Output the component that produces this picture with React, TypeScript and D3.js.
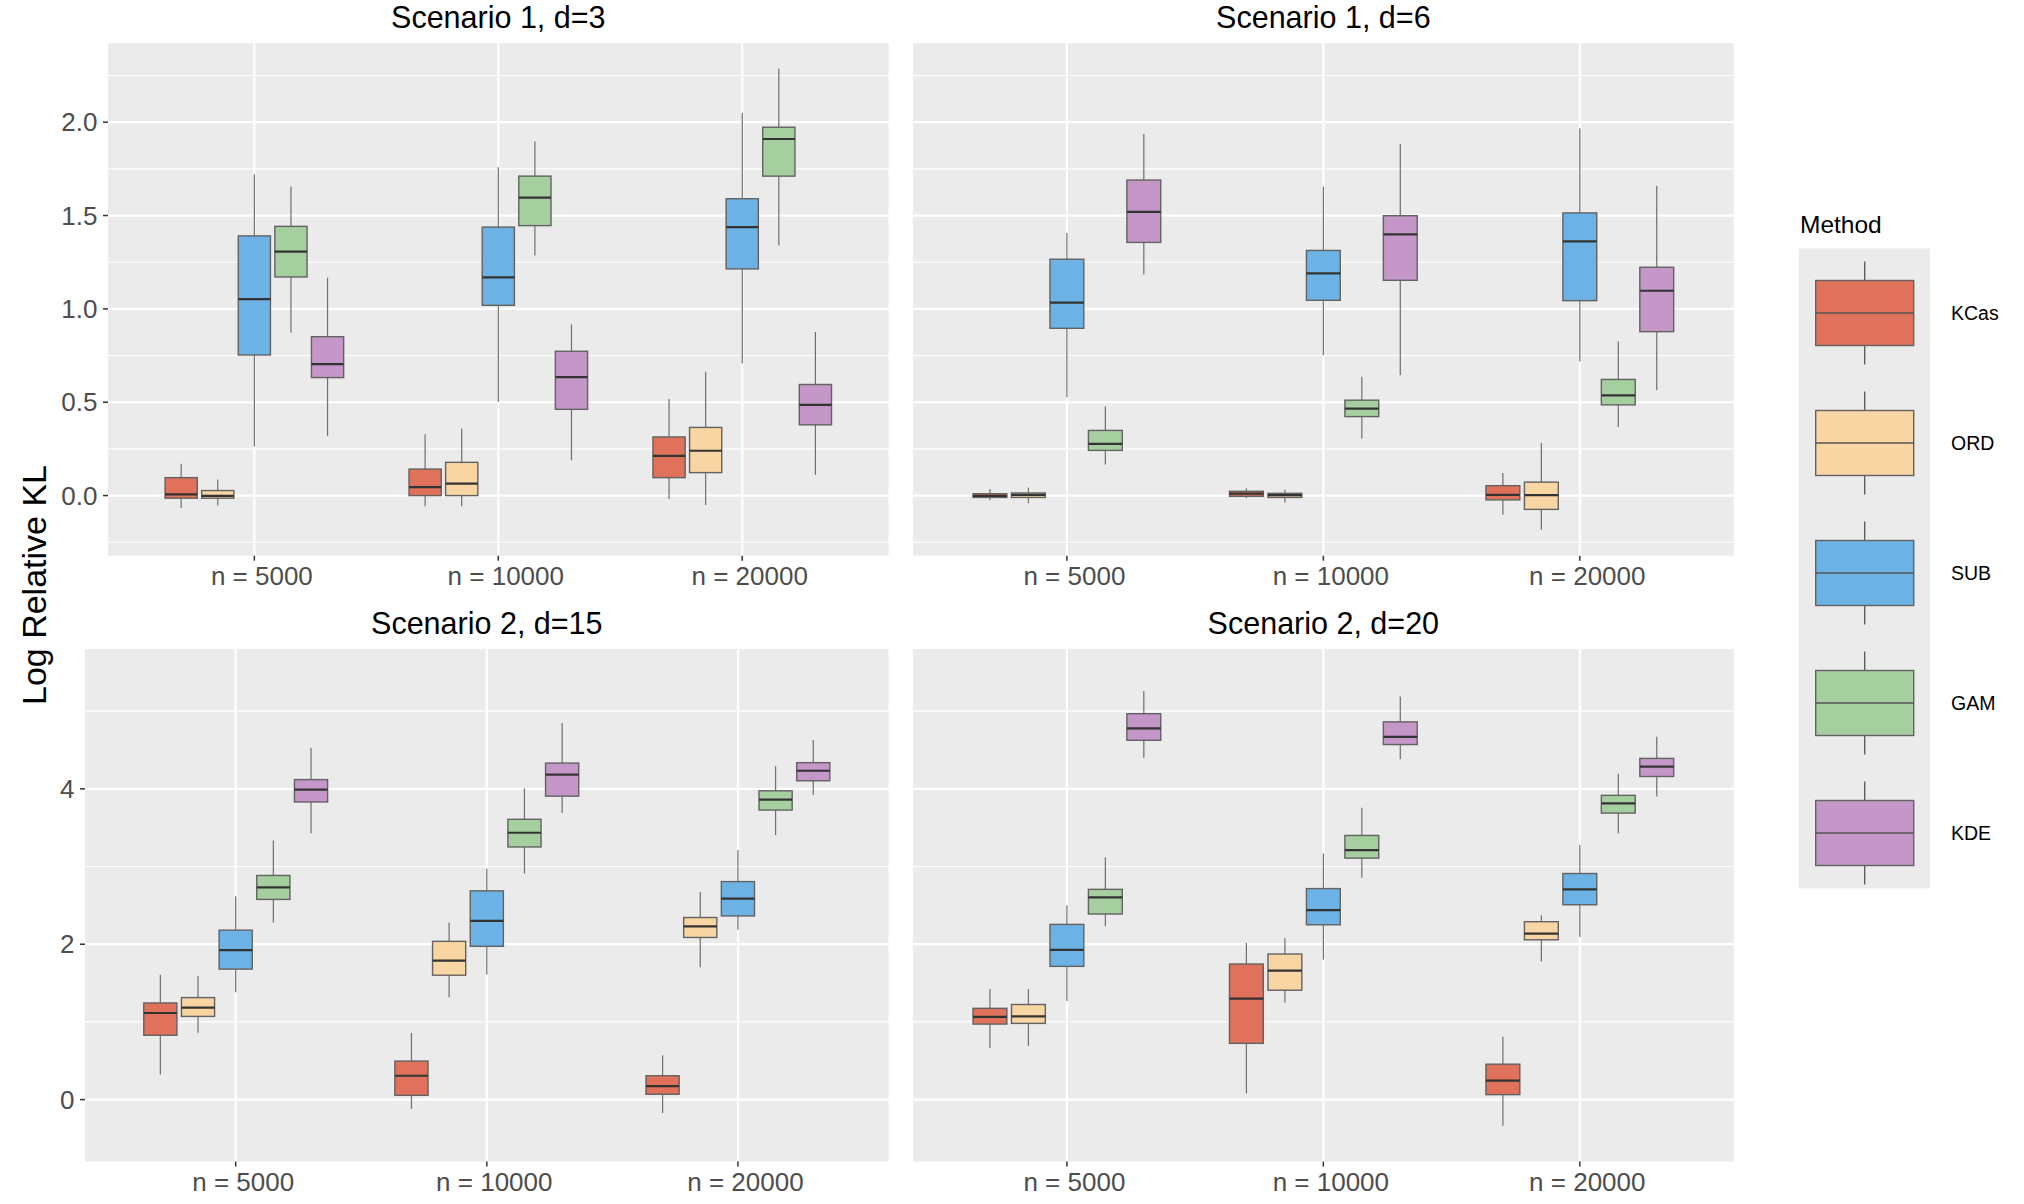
import * as d3 from "d3";

const methods = ["KCas", "ORD", "SUB", "GAM", "KDE"];
const methodColors = ["#E0715A", "#F8D5A2", "#6DB2E4", "#A6CFA0", "#C597C9"];
const sampleSizes = ["n = 5000", "n = 10000", "n = 20000"];

// each row: [lower whisker, q1, median, q3, upper whisker], grouped by n then method
const scenario1d3 = [
  [
    [-0.066, -0.014, 0.006, 0.096, 0.17],
    [-0.053, -0.014, -0.002, 0.027, 0.086],
    [0.263, 0.753, 1.052, 1.391, 1.721],
    [0.874, 1.171, 1.307, 1.442, 1.655],
    [0.32, 0.632, 0.704, 0.851, 1.167],
  ],
  [
    [-0.057, 0.0, 0.045, 0.142, 0.328],
    [-0.057, 0.0, 0.064, 0.178, 0.359],
    [0.503, 1.019, 1.169, 1.438, 1.758],
    [1.286, 1.446, 1.596, 1.711, 1.897],
    [0.189, 0.462, 0.634, 0.773, 0.917],
  ],
  [
    [-0.018, 0.096, 0.213, 0.314, 0.517],
    [-0.051, 0.123, 0.24, 0.365, 0.663],
    [0.708, 1.214, 1.438, 1.59, 2.051],
    [1.339, 1.711, 1.91, 1.973, 2.287],
    [0.111, 0.379, 0.486, 0.595, 0.876],
  ],
];

const scenario1d6 = [
  [
    [-0.025, -0.01, -0.002, 0.01, 0.035],
    [-0.041, -0.01, 0.004, 0.014, 0.043],
    [0.527, 0.896, 1.034, 1.266, 1.407],
    [0.166, 0.242, 0.277, 0.349, 0.478],
    [1.184, 1.356, 1.52, 1.69, 1.936],
  ],
  [
    [-0.014, -0.004, 0.01, 0.023, 0.039],
    [-0.037, -0.01, 0.002, 0.012, 0.031],
    [0.751, 1.046, 1.19, 1.313, 1.655],
    [0.306, 0.423, 0.466, 0.511, 0.636],
    [0.644, 1.153, 1.399, 1.499, 1.883],
  ],
  [
    [-0.103, -0.023, 0.004, 0.053, 0.121],
    [-0.183, -0.074, 0.002, 0.072, 0.281],
    [0.718, 1.044, 1.362, 1.514, 1.967],
    [0.367, 0.486, 0.537, 0.622, 0.825],
    [0.564, 0.878, 1.097, 1.223, 1.659],
  ],
];

const scenario2d15 = [
  [
    [0.322, 0.828, 1.115, 1.244, 1.606],
    [0.862, 1.071, 1.185, 1.313, 1.591],
    [1.383, 1.68, 1.923, 2.181, 2.617],
    [2.28, 2.577, 2.731, 2.885, 3.336],
    [3.43, 3.831, 3.99, 4.119, 4.53],
  ],
  [
    [-0.119, 0.055, 0.307, 0.496, 0.857],
    [1.318, 1.601, 1.789, 2.037, 2.28],
    [1.611, 1.973, 2.3, 2.687, 2.974],
    [2.91, 3.252, 3.435, 3.608, 4.005],
    [3.688, 3.906, 4.183, 4.332, 4.848],
  ],
  [
    [-0.173, 0.069, 0.173, 0.307, 0.57],
    [1.705, 2.087, 2.23, 2.344, 2.672],
    [2.186, 2.364, 2.587, 2.806, 3.212],
    [3.405, 3.727, 3.861, 3.975, 4.292],
    [3.921, 4.104, 4.233, 4.337, 4.629],
  ],
];

const scenario2d20 = [
  [
    [0.664, 0.972, 1.066, 1.175, 1.423],
    [0.689, 0.981, 1.071, 1.224, 1.423],
    [1.269, 1.715, 1.928, 2.255, 2.503],
    [2.23, 2.389, 2.602, 2.706, 3.118],
    [4.401, 4.625, 4.778, 4.967, 5.259],
  ],
  [
    [0.079, 0.724, 1.299, 1.745, 2.017],
    [1.249, 1.408, 1.66, 1.874, 2.077],
    [1.799, 2.25, 2.439, 2.716, 3.167],
    [2.855, 3.108, 3.212, 3.4, 3.757],
    [4.382, 4.57, 4.669, 4.862, 5.19],
  ],
  [
    [-0.337, 0.064, 0.243, 0.456, 0.808],
    [1.779, 2.057, 2.136, 2.29, 2.374],
    [2.092, 2.508, 2.706, 2.91, 3.276],
    [3.425, 3.688, 3.812, 3.916, 4.193],
    [3.901, 4.159, 4.287, 4.392, 4.669],
  ],
];

const topDomain = [-0.322, 2.423];
const topTicks = [0, 0.5, 1, 1.5, 2];
const topTickLabels = ["0.0", "0.5", "1.0", "1.5", "2.0"];
const topMinor = [-0.25, 0.25, 0.75, 1.25, 1.75, 2.25];

const bottomDomain = [-0.798, 5.8];
const bottomTicks = [0, 2, 4];
const bottomTickLabels = ["0", "2", "4"];
const bottomMinor = [1, 3, 5];

const FONT = "'Liberation Sans', Arial, Helvetica, sans-serif";

const panels = [
  { title: "Scenario 1, d=3", stats: scenario1d3, x0: 108, x1: 888.6, y0: 43.2, y1: 555.7, top: true, yAxis: true },
  { title: "Scenario 1, d=6", stats: scenario1d6, x0: 913, x1: 1733.7, y0: 43.2, y1: 555.7, top: true, yAxis: false },
  { title: "Scenario 2, d=15", stats: scenario2d15, x0: 85, x1: 888.6, y0: 649, y1: 1161.6, top: false, yAxis: true },
  { title: "Scenario 2, d=20", stats: scenario2d20, x0: 913, x1: 1733.7, y0: 649, y1: 1161.6, top: false, yAxis: false },
];

function Panel({ p }) {
  const domain = p.top ? topDomain : bottomDomain;
  const ticks = p.top ? topTicks : bottomTicks;
  const tickLabels = p.top ? topTickLabels : bottomTickLabels;
  const minor = p.top ? topMinor : bottomMinor;

  const y = d3.scaleLinear().domain(domain).range([p.y1, p.y0]);
  const x = d3
    .scaleBand()
    .domain(sampleSizes)
    .range([p.x0, p.x1])
    .paddingInner(0)
    .paddingOuter(0.1);
  const step = x.bandwidth();
  const dodge = d3
    .scaleBand()
    .domain(methods)
    .range([-0.375 * step, 0.375 * step]);
  const boxW = dodge.bandwidth() * 0.88;

  return (
    <g>
      <rect x={p.x0} y={p.y0} width={p.x1 - p.x0} height={p.y1 - p.y0} fill="#EBEBEB" />
      {minor.map((v) => (
        <line key={"mi" + v} x1={p.x0} x2={p.x1} y1={y(v)} y2={y(v)} stroke="#fff" strokeWidth={1.1} />
      ))}
      {ticks.map((v) => (
        <line key={"ma" + v} x1={p.x0} x2={p.x1} y1={y(v)} y2={y(v)} stroke="#fff" strokeWidth={2.2} />
      ))}
      {sampleSizes.map((s) => {
        const cx = x(s) + step / 2;
        return <line key={"vx" + s} x1={cx} x2={cx} y1={p.y0} y2={p.y1} stroke="#fff" strokeWidth={2.2} />;
      })}

      {sampleSizes.map((s, gi) =>
        methods.map((m, mi) => {
          const [lo, q1, med, q3, hi] = p.stats[gi][mi];
          const cx = x(s) + step / 2 + dodge(m) + dodge.bandwidth() / 2;
          return (
            <g key={s + m}>
              <line x1={cx} x2={cx} y1={y(hi)} y2={y(q3)} stroke="#6e6e6e" strokeWidth={1.2} />
              <line x1={cx} x2={cx} y1={y(q1)} y2={y(lo)} stroke="#6e6e6e" strokeWidth={1.2} />
              <rect
                x={cx - boxW / 2}
                y={y(q3)}
                width={boxW}
                height={Math.max(y(q1) - y(q3), 0.5)}
                fill={methodColors[mi]}
                stroke="#626262"
                strokeWidth={1.4}
              />
              <line x1={cx - boxW / 2} x2={cx + boxW / 2} y1={y(med)} y2={y(med)} stroke="#333" strokeWidth={2.2} />
            </g>
          );
        })
      )}

      {sampleSizes.map((s) => {
        const cx = x(s) + step / 2;
        return (
          <g key={"xt" + s}>
            <line x1={cx} x2={cx} y1={p.y1} y2={p.y1 + 5} stroke="#333" strokeWidth={1.5} />
            <text x={cx + 7.5} y={p.y1 + 29} textAnchor="middle" fontSize={26} fill="#4D4D4D" fontFamily={FONT}>
              {s}
            </text>
          </g>
        );
      })}

      {p.yAxis &&
        ticks.map((v, i) => (
          <g key={"yt" + v}>
            <line x1={p.x0 - 5} x2={p.x0} y1={y(v)} y2={y(v)} stroke="#333" strokeWidth={1.5} />
            <text
              x={p.x0 - 10.5}
              y={y(v)}
              dy="0.35em"
              textAnchor="end"
              fontSize={26}
              fill="#4D4D4D"
              fontFamily={FONT}
            >
              {tickLabels[i]}
            </text>
          </g>
        ))}

      <text x={(p.x0 + p.x1) / 2} y={p.y0 - 15} textAnchor="middle" fontSize={30.5} fill="#000" fontFamily={FONT}>
        {p.title}
      </text>
    </g>
  );
}

function Legend() {
  const keyY = d3.scaleLinear().domain([0, 1]).range([313, 443]);
  return (
    <g>
      <text x={1800} y={233} fontSize={24.5} fill="#000" fontFamily={FONT}>
        Method
      </text>
      <rect x={1799} y={248.3} width={131} height={640} fill="#EBEBEB" />
      {methods.map((m, i) => {
        const cy = keyY(i);
        return (
          <g key={"lg" + m}>
            <line x1={1864.7} x2={1864.7} y1={cy - 51.5} y2={cy + 51.5} stroke="#555" strokeWidth={1.3} />
            <rect x={1815.7} y={cy - 32.5} width={98} height={65} fill={methodColors[i]} stroke="#626262" strokeWidth={1.4} />
            <line x1={1815.7} x2={1913.7} y1={cy} y2={cy} stroke="#555" strokeWidth={1.6} />
            <text x={1951} y={cy} dy="0.35em" fontSize={19.5} fill="#000" fontFamily={FONT}>
              {m}
            </text>
          </g>
        );
      })}
    </g>
  );
}

export default function App() {
  return (
    <svg
      width={2024}
      height={1204}
      style={{ position: "absolute", left: 0, top: 0, background: "#fff" }}
    >
      <rect x={0} y={0} width={2024} height={1204} fill="#fff" />
      {panels.map((p) => (
        <Panel key={p.title} p={p} />
      ))}
      <text
        transform="translate(46,585) rotate(-90)"
        textAnchor="middle"
        fontSize={34}
        fill="#000"
        fontFamily={FONT}
      >
        Log Relative KL
      </text>
      <Legend />
    </svg>
  );
}
